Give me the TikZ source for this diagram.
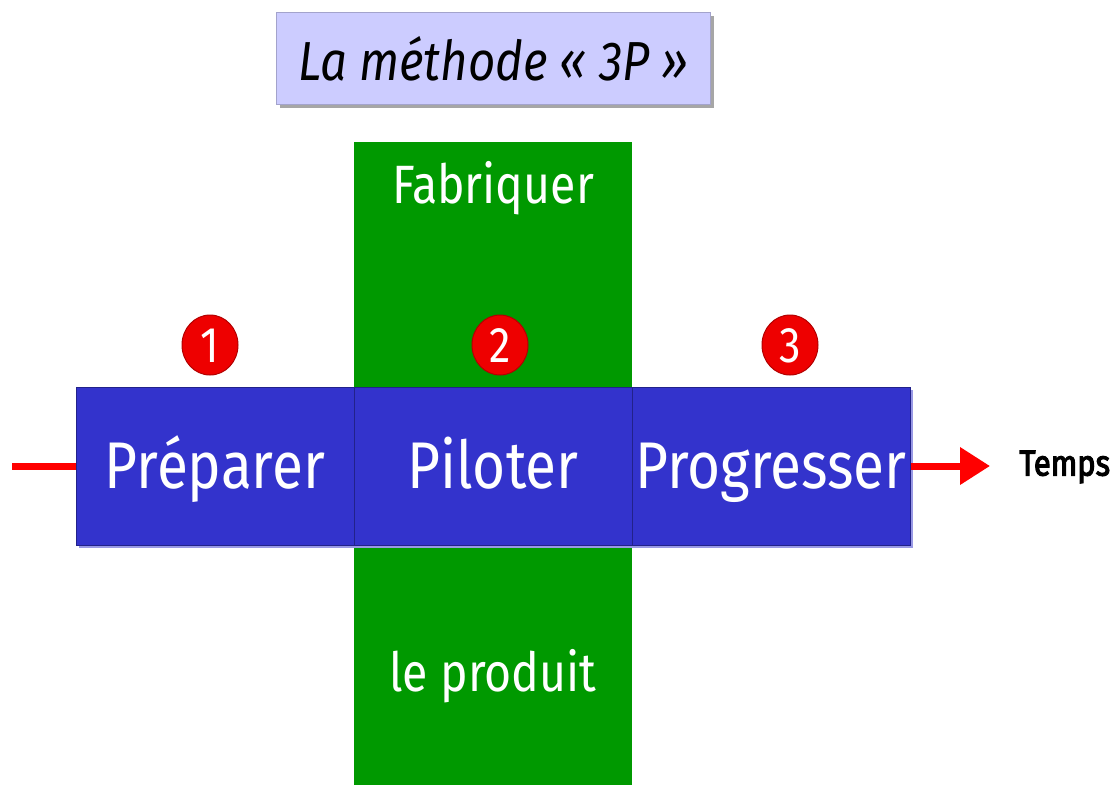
\documentclass[tikz,border=0pt]{standalone}
\usepackage{fontspec}
\setmainfont{Fira Sans}[FakeStretch=0.86]
\newfontfamily\tempsfont{Fira Sans}[FakeStretch=0.86, FakeBold=3]
\usetikzlibrary{arrows.meta,shapes.geometric}
\definecolor{blueb}{HTML}{3333CC}
\definecolor{blueedge}{HTML}{22228A}
\definecolor{greenb}{HTML}{009900}
\definecolor{lav}{HTML}{CCCCFF}
\definecolor{redc}{HTML}{EE0000}
\tikzset{
  stepbox/.style={draw=blueedge, line width=1pt, fill=blueb, minimum width=278pt, minimum height=158pt, inner sep=0pt,
     text=white, font=\fontsize{66}{68}\selectfont, text height=45pt, text depth=0pt},
  numdot/.style={ellipse, fill=redc, draw=red!70!black, line width=1pt, minimum width=56pt, minimum height=60pt, inner sep=0pt,
     text=white, font=\fontsize{50}{52}\selectfont, text height=35pt, text depth=0pt},
  greenlbl/.style={text=white, font=\fontsize{54}{56}\selectfont},
}
\begin{document}
\begin{tikzpicture}[x=1pt,y=-1pt]
\useasboundingbox (0,0) rectangle (1119,785);
% title
\fill[gray!70] (280,16) rectangle (714,108);
\node[draw=lav!80!black, line width=0.6pt, fill=lav, minimum width=434pt, minimum height=92pt, inner sep=0pt,
  font=\itshape\fontsize{55}{57}\selectfont] (title) at (493.5,58.5) {La méthode « 3P »};
% green band
\fill[greenb] (354,142) rectangle (632,785);
\node[greenlbl] (fab) at (493,188) {Fabriquer};
\node[greenlbl] (prod) at (493,676) {le produit};
% blue shadow
\fill[blueb!50!white] (79,390) rectangle (913,548);
% blue boxes
\node[stepbox] (prep) at (215,466) {Préparer};
\node[stepbox] (pilo) at (493,466) {Piloter};
\node[stepbox] (prog) at (771,466) {Progresser};
% numbers
\node[numdot] (n1) at (210,345) {1};
\node[numdot] (n2) at (500,345) {2};
\node[numdot] (n3) at (790,345) {3};
% arrows
\coordinate (start) at (12,466);
\coordinate (tend) at (990,466);
\draw[red, line width=7pt] (start) -- (prep.west);
\draw[red, line width=7pt, -{Triangle[length=30pt,width=36pt]}] (prog.east) -- (tend);
\node[font=\tempsfont\fontsize{36}{38}\selectfont, anchor=west] (temps) at (1016,467) {Temps};
\end{tikzpicture}
\end{document}
